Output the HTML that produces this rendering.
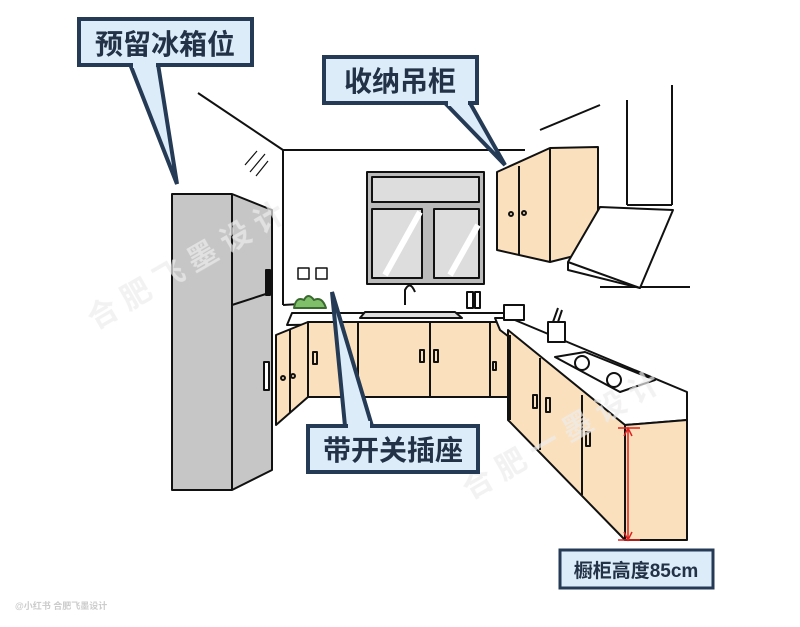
<!DOCTYPE html>
<html><head><meta charset="utf-8"><style>
html,body{margin:0;padding:0;background:#fff}
svg{display:block}
text{font-family:"Liberation Sans","Noto Sans CJK SC",sans-serif;font-weight:bold}
</style></head><body>
<svg width="800" height="627" viewBox="0 0 800 627" xmlns="http://www.w3.org/2000/svg">
<g stroke="#111" stroke-width="2" fill="none" stroke-linejoin="round">
<path d="M198 93 L283 150 L525 150"/>
<path d="M283 150 L283 305"/>
<path d="M540 130 L600 105"/>
<path d="M627 100 L627 205 M672 85 L672 205 M627 205 L672 205"/>
<path d="M245 165 l12 -14 M250 172 l15 -18 M256 176 l12 -15" stroke-width="1.2"/>
<path d="M283 305 L300 304"/>
<path d="M600 287 L690 287"/>
<rect x="367" y="172" width="117" height="112" fill="#bbb"/>
<rect x="372" y="177" width="107" height="25" fill="#ddd"/>
<rect x="372" y="209" width="50" height="69" fill="#ddd"/>
<rect x="434" y="209" width="45" height="69" fill="#ddd"/>
<path d="M385 275 L420 212 M450 275 L478 225" stroke="#fff" stroke-width="6"/>
<polygon points="497,172 550,148 598,147 598,250 550,262 497,250" fill="#fbe0bd"/>
<path d="M519 166 L519 255 M550 148 L550 262"/>
<circle cx="511" cy="214" r="2"/><circle cx="524" cy="213" r="2"/>
<polygon points="600,207 673,210 640,288 568,262" fill="#fff"/>
<path d="M568 262 L568 270 L640 288"/>
<polygon points="292,313 507,313 512,322 287,325" fill="#fff"/>
<rect x="308" y="322" width="200" height="75" fill="#fbe0bd"/>
<path d="M358 322 L358 397 M430 322 L430 397 M490 322 L490 397"/>
<rect x="313" y="352" width="4" height="12" /><rect x="420" y="350" width="4" height="12"/><rect x="434" y="350" width="4" height="12"/><rect x="493" y="362" width="3" height="8"/>
<polygon points="276,335 308,322 308,397 276,425" fill="#fbe0bd"/>
<path d="M290 330 L290 413"/>
<circle cx="283" cy="378" r="2"/><circle cx="293" cy="376" r="2"/>
<polygon points="495,318 510,318 687,392 687,420 625,425 500,330" fill="#fff"/>
<polygon points="508,330 625,425 625,540 508,420" fill="#fbe0bd"/>
<path d="M510 335 L510 420 M540 358 L540 450 M582 395 L582 495"/>
<rect x="533" y="395" width="4" height="13"/><rect x="546" y="398" width="4" height="14"/><rect x="586" y="432" width="4" height="14"/>
<polygon points="625,425 687,420 687,540 625,540" fill="#fbe0bd"/>
<polygon points="555,357 585,352 655,380 620,392" fill="#fff"/>
<circle cx="582" cy="363" r="7"/><circle cx="614" cy="380" r="7"/>
<rect x="548" y="322" width="17" height="20" fill="#fff"/>
<path d="M553 322 L558 308 M558 322 L562 310"/>
<polygon points="365,312 455,312 462,318 360,318" fill="#ddd"/>
<path d="M405 305 L405 290 Q410 280 415 292"/>
<rect x="467" y="292" width="6" height="16" fill="#fff"/><rect x="475" y="292" width="5" height="16" fill="#fff"/>
<rect x="504" y="305" width="20" height="15" fill="#fff"/>
<path d="M294 308 q2 -12 10 -8 q4 -8 10 0 q8 -4 12 8 z" fill="#7fbf6a" stroke="#3a6a30"/>
<rect x="298" y="268" width="11" height="11" fill="#fff" stroke-width="1.5"/>
<rect x="316" y="268" width="11" height="11" fill="#fff" stroke-width="1.5"/>
<polygon points="172,194 232,194 272,210 272,470 232,490 172,490" fill="#c6c6c6"/>
<path d="M232 194 L232 490 M232 305 L272 292"/>
<rect x="266" y="270" width="4" height="25" fill="#111"/>
<rect x="264" y="362" width="5" height="28" fill="#fff"/>
</g>
<g stroke="#d22" stroke-width="1.5" fill="none">
<path d="M628 428 L628 540 M618 428 L640 428 M618 540 L640 540 M624 436 L628 428 L632 436 M624 532 L628 540 L632 532"/>
</g>
<g fill="#ececec" font-size="30" opacity="0.7">
<text x="95" y="330" transform="rotate(-30 95 330)">合 肥 飞 墨 设 计</text>
<text x="470" y="500" transform="rotate(-30 470 500)">合 肥 一 墨 设 计</text>
</g>
<g stroke="#243a55" stroke-width="4" fill="#dcecf8" stroke-linejoin="miter">
<polygon points="130,64 177,184 158,64"/>
<rect x="79" y="19" width="173" height="46"/>
<polygon points="445,103 505,165 470,103"/>
<rect x="324" y="57" width="153" height="46"/>
<polygon points="345,426 332,292 372,426"/>
<rect x="308" y="426" width="170" height="46"/>
<rect x="560" y="550" width="153" height="38" stroke-width="3"/>
</g>
<g fill="#dcecf8"><rect x="133" y="60" width="23" height="8"/><rect x="448" y="98" width="20" height="8"/><rect x="348" y="421" width="22" height="8"/></g>
<g fill="#233247">
<text x="165" y="54" font-size="28" text-anchor="middle">预留冰箱位</text>
<text x="400" y="91" font-size="28" text-anchor="middle">收纳吊柜</text>
<text x="393" y="460" font-size="28" text-anchor="middle">带开关插座</text>
<text x="636" y="577" font-size="19" text-anchor="middle">橱柜高度85cm</text>
</g>
<text x="15" y="609" font-size="9" fill="#ccc" font-weight="normal">@小红书 合肥飞墨设计</text>
</svg>
</body></html>
